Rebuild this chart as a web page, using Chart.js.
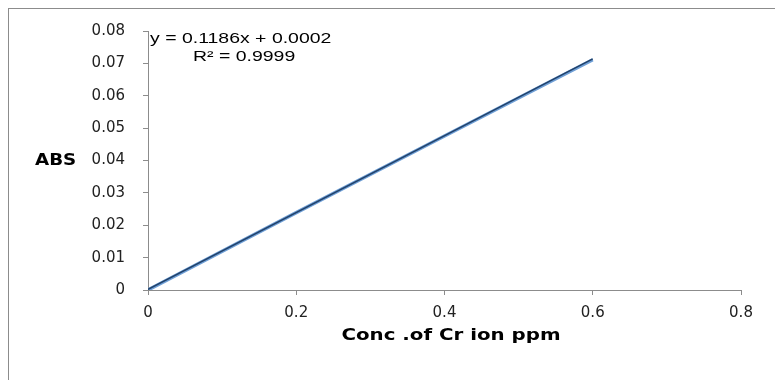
<!DOCTYPE html>
<html>
<head>
<meta charset="utf-8">
<script src="https://cdn.jsdelivr.net/npm/chart.js@4/dist/chart.umd.min.js"></script>
<style>
  html, body { margin: 0; padding: 0; background: #fff; }
  #wrap { position: relative; width: 775px; height: 380px; }
  #frame { position: absolute; left: 8px; top: 8px; right: 0; bottom: 0; border-left: 1px solid #8c8c8c; border-top: 1px solid #8c8c8c; }
  canvas { position: absolute; left: 0; top: 0; }
</style>
</head>
<body>
<div id="wrap">
  <div id="frame"></div>
  <canvas id="calChart" width="775" height="380"></canvas>
</div>
<script>
const concPpm = [0, 0.2, 0.4, 0.6];
const absValues = [0, 0.0239, 0.0476, 0.0711];
const trendX = [0, 0.6];
const trendY = [0.0002, 0.0714];
const eqLines = ["y = 0.1186x + 0.0002", "R\u00b2 = 0.9999"];
const yTitle = "ABS";
const xTitle = "Conc .of Cr ion ppm";

const tickFont = { family: "DejaVu Sans", size: 15 };
const axisGrey = "#8c8c8c";

// the original text is stretched sideways, so draw it with a small x-scale
function wideText(ctx, text, x, y, sx, align) {
    ctx.save();
    ctx.translate(x, y);
    ctx.scale(sx, 1);
    ctx.textAlign = align;
    ctx.fillText(text, 0, 0);
    ctx.restore();
}

const labelsPlugin = {
    id: "labels",
    afterDraw(chart) {
        const ctx = chart.ctx;
        ctx.save();
        ctx.fillStyle = "#000";
        ctx.textBaseline = "middle";
        ctx.font = "bold 15px 'DejaVu Sans'";
        wideText(ctx, yTitle, 35, 161, 1.22, "left");
        wideText(ctx, xTitle, 451, 336, 1.32, "center");

        ctx.font = "14px 'Liberation Sans'";
        wideText(ctx, eqLines[0], 150, 39, 1.39, "left");
        wideText(ctx, eqLines[1], 193, 57, 1.39, "left");
        ctx.restore();
    },
};

new Chart(document.getElementById("calChart"), {
    type: "scatter",
    data: {
        datasets: [
            {
                label: "ABS",
                data: concPpm.map((x, i) => ({ x, y: absValues[i] })),
                showLine: true,
                borderColor: "#6f9fd6",
                borderWidth: 3.4,
                pointRadius: 0,
                order: 2,
            },
            {
                label: "Linear",
                data: trendX.map((x, i) => ({ x, y: trendY[i] })),
                showLine: true,
                borderColor: "#21426b",
                borderWidth: 1.6,
                pointRadius: 0,
                order: 1,
            },
        ],
    },
    options: {
        responsive: false,
        animation: false,
        layout: { padding: { top: 31, right: 34, bottom: 0, left: 0 } },
        plugins: { legend: { display: false }, tooltip: { enabled: false } },
        scales: {
            x: {
                type: "linear",
                min: 0,
                max: 0.8,
                ticks: {
                    stepSize: 0.2,
                    color: "#222",
                    font: tickFont,
                    padding: 9,
                    maxRotation: 0,
                    callback: (v) => (v === 0 ? "0" : Number(v).toFixed(1)),
                },
                grid: { drawOnChartArea: false, drawTicks: true, tickLength: 5, color: axisGrey },
                border: { color: axisGrey },
                afterFit: (scale) => { scale.height = 90; },
            },
            y: {
                type: "linear",
                min: 0,
                max: 0.08,
                ticks: {
                    stepSize: 0.01,
                    color: "#222",
                    font: tickFont,
                    padding: 18,
                    callback: (v) => (Math.abs(v) < 1e-9 ? "0" : Number(v).toFixed(2)),
                },
                grid: { drawOnChartArea: false, drawTicks: true, tickLength: 5, color: axisGrey },
                border: { color: axisGrey },
                afterFit: (scale) => { scale.width = 148; },
            },
        },
    },
    plugins: [labelsPlugin],
});
</script>
</body>
</html>
